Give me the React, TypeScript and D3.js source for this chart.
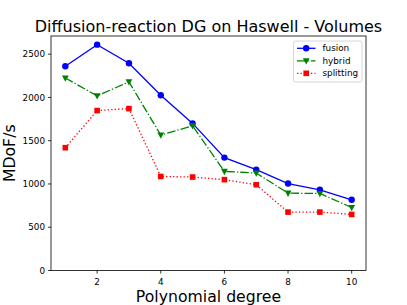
import React, { useEffect, useRef } from "react";
import * as d3 from "d3";

const degrees = [1, 2, 3, 4, 5, 6, 7, 8, 9, 10];
const fusion = [2360, 2610, 2395, 2025, 1700, 1305, 1165, 1005, 933, 817];
const hybrid = [2225, 2018, 2180, 1565, 1672, 1145, 1126, 894, 890, 728];
const splitting = [1419, 1848, 1871, 1087, 1080, 1050, 991, 675, 675, 648];
const xTicks = [2, 4, 6, 8, 10];
const yTicks = [0, 500, 1000, 1500, 2000, 2500];

const App = () => {
  const svgRef = useRef<SVGSVGElement>(null);

  useEffect(() => {
    const width = 407,
      height = 305;
    const left = 51,
      right = 366,
      top = 36,
      bottom = 270.5;
    const font = "DejaVu Sans, sans-serif";

    const svg = d3.select(svgRef.current).attr("width", width).attr("height", height).html("");
    svg.append("rect").attr("width", width).attr("height", height).attr("fill", "#fff");

    const x = d3.scaleLinear().domain([0.55, 10.45]).range([left, right]);
    const y = d3.scaleLinear().domain([0, 2710]).range([bottom, top]);

    const series = [
      { name: "fusion", values: fusion, color: "#0000ff", dash: null, marker: "circle" },
      { name: "hybrid", values: hybrid, color: "#008000", dash: "8.5,2.1,1.3,2.1", marker: "tri" },
      { name: "splitting", values: splitting, color: "#ff0000", dash: "1.3,2.2", marker: "square" },
    ];

    const drawMarker = (g: any, kind: string, cx: number, cy: number, color: string) => {
      if (kind === "circle") {
        g.append("circle").attr("cx", cx).attr("cy", cy).attr("r", 3.2).attr("fill", color);
      } else if (kind === "square") {
        g.append("rect").attr("x", cx - 2.8).attr("y", cy - 2.8).attr("width", 5.6).attr("height", 5.6).attr("fill", color);
      } else {
        const s = 3.4;
        g.append("path")
          .attr("d", `M${cx - s},${cy - s * 0.75}L${cx + s},${cy - s * 0.75}L${cx},${cy + s * 1.1}Z`)
          .attr("fill", color);
      }
    };

    const line = d3
      .line<number>()
      .x((_, i) => x(degrees[i]))
      .y((d) => y(d));

    const plot = svg.append("g");
    series.forEach((s) => {
      plot
        .append("path")
        .attr("d", line(s.values))
        .attr("fill", "none")
        .attr("stroke", s.color)
        .attr("stroke-width", 1.3)
        .attr("stroke-dasharray", s.dash);
      s.values.forEach((v, i) => drawMarker(plot, s.marker, x(degrees[i]), y(v), s.color));
    });

    // frame
    svg
      .append("rect")
      .attr("x", left)
      .attr("y", top)
      .attr("width", right - left)
      .attr("height", bottom - top)
      .attr("fill", "none")
      .attr("stroke", "#000")
      .attr("stroke-width", 0.8);

    // x ticks
    const xt = svg.append("g");
    xTicks.forEach((t) => {
      xt.append("line").attr("x1", x(t)).attr("x2", x(t)).attr("y1", bottom).attr("y2", bottom + 3.1).attr("stroke", "#000").attr("stroke-width", 0.8);
      xt.append("text")
        .attr("x", x(t))
        .attr("y", bottom + 14)
        .attr("text-anchor", "middle")
        .style("font-family", font)
        .style("font-size", "8.8px")
        .text(t);
    });

    // y ticks
    const yt = svg.append("g");
    yTicks.forEach((t) => {
      yt.append("line").attr("x1", left - 3.1).attr("x2", left).attr("y1", y(t)).attr("y2", y(t)).attr("stroke", "#000").attr("stroke-width", 0.8);
      yt.append("text")
        .attr("x", left - 6)
        .attr("y", y(t))
        .attr("dy", "0.35em")
        .attr("text-anchor", "end")
        .style("font-family", font)
        .style("font-size", "8.8px")
        .text(t);
    });

    // labels
    svg
      .append("text")
      .attr("x", (left + right) / 2)
      .attr("y", 31.5)
      .attr("text-anchor", "middle")
      .style("font-family", font)
      .style("font-size", "16px")
      .text("Diffusion-reaction DG on Haswell - Volumes");
    svg
      .append("text")
      .attr("x", (left + right) / 2)
      .attr("y", 301.5)
      .attr("text-anchor", "middle")
      .style("font-family", font)
      .style("font-size", "15.7px")
      .text("Polynomial degree");
    svg
      .append("text")
      .attr("transform", `translate(15,${(top + bottom) / 2}) rotate(-90)`)
      .attr("text-anchor", "middle")
      .style("font-family", font)
      .style("font-size", "15.7px")
      .text("MDoF/s");

    // legend
    const lg = svg.append("g");
    lg.append("rect")
      .attr("x", 293.5)
      .attr("y", 41)
      .attr("width", 68.5)
      .attr("height", 41)
      .attr("rx", 2)
      .attr("fill", "#fff")
      .attr("fill-opacity", 0.8)
      .attr("stroke", "#ccc")
      .attr("stroke-width", 0.8);
    series.forEach((s, i) => {
      const ly = 48.3 + i * 12.5;
      lg.append("line")
        .attr("x1", 297)
        .attr("x2", 315.5)
        .attr("y1", ly)
        .attr("y2", ly)
        .attr("stroke", s.color)
        .attr("stroke-width", 1.3)
        .attr("stroke-dasharray", s.dash);
      drawMarker(lg, s.marker, 306.2, ly, s.color);
      lg.append("text")
        .attr("x", 322.5)
        .attr("y", ly)
        .attr("dy", "0.35em")
        .style("font-family", font)
        .style("font-size", "8.8px")
        .text(s.name);
    });
  }, []);

  return <svg ref={svgRef} style={{ position: "absolute", left: 0, top: 0, display: "block" }}></svg>;
};

export default App;
